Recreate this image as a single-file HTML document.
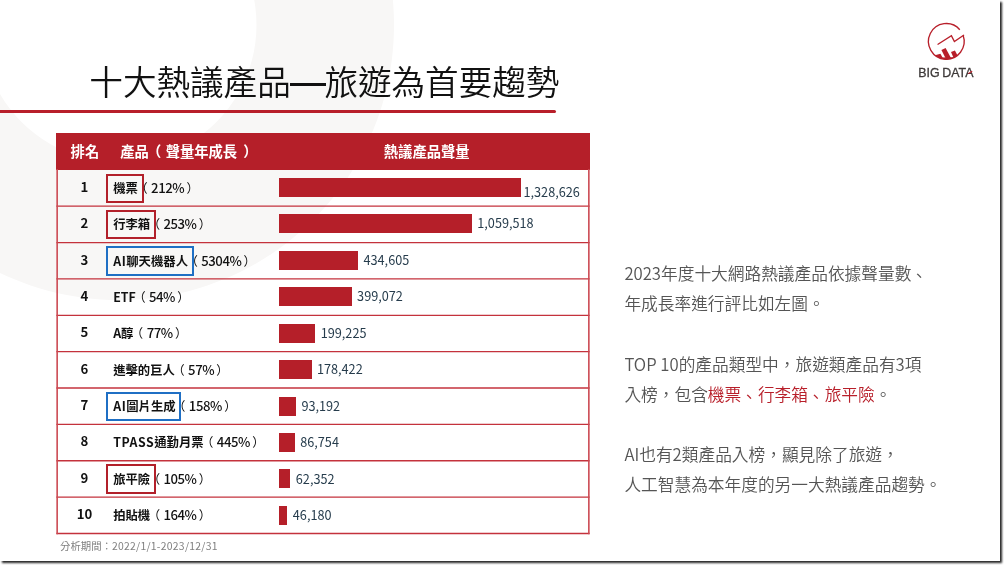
<!DOCTYPE html>
<html lang="zh-Hant">
<head>
<meta charset="utf-8">
<title>十大熱議產品—旅遊為首要趨勢</title>
<style>
html,body{margin:0;padding:0;background:#fff;}
body{width:1004px;height:565px;overflow:hidden;position:relative;font-family:"Liberation Sans","Noto Sans CJK TC",sans-serif;}
#slide{position:absolute;left:0;top:0;width:1000px;height:561px;background:#fff;box-shadow:2px 2px 2px rgba(0,0,0,.85);overflow:hidden;}
#bg{position:absolute;left:0;top:0;}
h1{position:absolute;left:89.3px;top:55.8px;margin:0;font-family:"Noto Sans CJK TC","Liberation Sans",sans-serif;font-weight:350;font-size:33.6px;line-height:50px;color:#111;white-space:nowrap;letter-spacing:0;}
.ds{position:relative;top:2px;}
.ds:after{content:"";position:absolute;left:-0.7px;right:-1.9px;top:25.7px;height:2.6px;background:#111;}
#rule{position:absolute;left:0;top:109.6px;width:556px;height:3.2px;background:#b81f2a;border-radius:0 2px 2px 0;}
#tbl{position:absolute;left:0;top:0;}
#hd{position:absolute;left:56.3px;top:133px;width:533.3px;height:36.8px;background:#b51f29;color:#fff;font-family:"Noto Sans CJK TC","Liberation Sans",sans-serif;font-weight:700;font-size:14.3px;line-height:35.2px;white-space:nowrap;}
#hd span{position:absolute;top:0;}
s{text-decoration:none;position:relative;}
#hd .pl{margin-left:-2px;margin-right:4.5px;}
#hd .pr{margin-left:6px;}
.pc .pl{margin-left:-2.6px;margin-right:3.4px;}
.pc .pr{margin-left:2.2px;}
.ls{letter-spacing:.55px;}
.row{position:absolute;left:0;width:1000px;height:36.37px;line-height:35.2px;white-space:nowrap;}
.rk{position:absolute;left:64.5px;width:40px;line-height:34.2px;text-align:center;font-family:"Noto Sans CJK TC",sans-serif;font-weight:700;font-size:13.2px;color:#111;}
.nm{position:absolute;left:113.2px;top:0;color:#222;}
.pn{font-family:"Noto Sans CJK TC","Liberation Sans",sans-serif;font-weight:700;font-size:12.35px;color:#111;position:relative;}
.pc{font-family:"Noto Sans CJK TC","Liberation Sans",sans-serif;font-weight:400;font-size:12.4px;color:#111;}
.pc u{text-decoration:none;font-size:13.2px;letter-spacing:-.45px;font-weight:500;}
.bx:before{content:"";position:absolute;left:-7.1px;width:calc(100% + 12.9px);box-sizing:border-box;top:-5.3px;height:29.4px;border:2px solid #b2202a;}
.bl:before{border-color:#1f6fc4;}
.bar{position:absolute;left:279px;top:7.9px;height:19px;background:#b51f29;}
.lb{position:absolute;top:-0.6px;font-family:"Noto Sans CJK TC","Liberation Sans",sans-serif;font-size:12.7px;color:#263c4c;}
#ft{position:absolute;left:60px;top:537px;font-family:"Noto Sans CJK TC","Liberation Sans",sans-serif;font-size:10.4px;line-height:18px;color:#808080;white-space:nowrap;}
#tx{position:absolute;left:624.4px;top:258.4px;font-family:"Noto Sans CJK TC","Liberation Sans",sans-serif;font-weight:350;font-size:16.7px;line-height:30.1px;color:#555;white-space:nowrap;}
#tx em{font-style:normal;color:#b81f2a;}
#tx .dn{top:2px;left:-0.5px;}
#logo{position:absolute;left:905px;top:15px;}
</style>
</head>
<body>
<div id="slide">
<svg id="bg" width="1000" height="561" viewBox="0 0 1000 561">
  <path fill="#f8f7f6" fill-rule="evenodd" d="M119 -250 a275 275 0 1 0 0.01 0 Z M119 -112.5 a137.5 137.5 0 1 1 -0.01 0 Z"/>
</svg>
<h1>十大熱議產品<span class="ds">—</span>旅遊為首要趨勢</h1>
<div id="rule"></div>
<div id="hd"><span style="left:14.3px">排名</span><span style="left:64px">產品<s class="pl">（</s>聲量年成長<s class="pr">）</s></span><span style="left:327.5px">熱議產品聲量</span></div>
<svg id="tbl" width="1000" height="561" viewBox="0 0 1000 561"><g stroke="#c4323c" stroke-width="1.3" fill="none"><path d="M56.4 206.17H589.6"/><path d="M56.4 242.54H589.6"/><path d="M56.4 278.91H589.6"/><path d="M56.4 315.28H589.6"/><path d="M56.4 351.65H589.6"/><path d="M56.4 388.02H589.6"/><path d="M56.4 424.39H589.6"/><path d="M56.4 460.76H589.6"/><path d="M56.4 497.13H589.6"/><path d="M56.4 533.50H589.6"/></g><g stroke="#cc4a53" stroke-width="1.6" fill="none"><path d="M57.15 169V534.15"/><path d="M588.85 169V534.15"/></g></svg>
<div class="row" style="top:169.80px"><span class="rk">1</span><span class="nm"><b class="pn bx rd">機票</b><span class="pc"><s class="pl">（</s><u>212%</u><s class="pr">）</s></span></span><i class="bar" style="top:7.9px;width:241.9px"></i><span class="lb" style="left:523.5px;top:4.4px">1,328,626</span></div>
<div class="row" style="top:206.17px"><span class="rk">2</span><span class="nm"><b class="pn bx rd">行李箱</b><span class="pc"><s class="pl">（</s><u>253%</u><s class="pr">）</s></span></span><i class="bar" style="top:8.0px;width:192.9px"></i><span class="lb" style="left:477.3px;top:-0.7px">1,059,518</span></div>
<div class="row" style="top:242.54px"><span class="rk">3</span><span class="nm"><b class="pn bx bl"><span class="ls">AI</span>聊天機器人</b><span class="pc"><s class="pl">（</s><u>5304%</u><s class="pr">）</s></span></span><i class="bar" style="top:8.1px;width:79.1px"></i><span class="lb" style="left:363.5px;top:-0.6px">434,605</span></div>
<div class="row" style="top:278.91px"><span class="rk">4</span><span class="nm"><b class="pn">ETF</b><span class="pc"><s class="pl">（</s><u>54%</u><s class="pr">）</s></span></span><i class="bar" style="top:8.2px;width:72.7px"></i><span class="lb" style="left:357.1px;top:-0.5px">399,072</span></div>
<div class="row" style="top:315.28px"><span class="rk">5</span><span class="nm"><b class="pn">A醇</b><span class="pc"><s class="pl">（</s><u>77%</u><s class="pr">）</s></span></span><i class="bar" style="top:8.3px;width:36.3px"></i><span class="lb" style="left:320.7px;top:-0.4px">199,225</span></div>
<div class="row" style="top:351.65px"><span class="rk">6</span><span class="nm"><b class="pn">進擊的巨人</b><span class="pc"><s class="pl">（</s><u>57%</u><s class="pr">）</s></span></span><i class="bar" style="top:8.4px;width:32.5px"></i><span class="lb" style="left:316.9px;top:-0.3px">178,422</span></div>
<div class="row" style="top:388.02px"><span class="rk">7</span><span class="nm"><b class="pn bx bl"><span class="ls">AI</span>圖片生成</b><span class="pc"><s class="pl">（</s><u>158%</u><s class="pr">）</s></span></span><i class="bar" style="top:8.5px;width:17.0px"></i><span class="lb" style="left:301.4px;top:-0.2px">93,192</span></div>
<div class="row" style="top:424.39px"><span class="rk">8</span><span class="nm"><b class="pn"><span class="ls">TPASS</span>通勤月票</b><span class="pc"><s class="pl">（</s><u>445%</u><s class="pr">）</s></span></span><i class="bar" style="top:8.6px;width:15.8px"></i><span class="lb" style="left:300.2px;top:-0.1px">86,754</span></div>
<div class="row" style="top:460.76px"><span class="rk">9</span><span class="nm"><b class="pn bx rd">旅平險</b><span class="pc"><s class="pl">（</s><u>105%</u><s class="pr">）</s></span></span><i class="bar" style="top:8.7px;width:11.4px"></i><span class="lb" style="left:295.8px;top:0.0px">62,352</span></div>
<div class="row" style="top:497.13px"><span class="rk">10</span><span class="nm"><b class="pn">拍貼機</b><span class="pc"><s class="pl">（</s><u>164%</u><s class="pr">）</s></span></span><i class="bar" style="top:8.8px;width:8.4px"></i><span class="lb" style="left:292.8px;top:0.1px">46,180</span></div>
<div id="ft">分析期間：<span style="letter-spacing:.27px">2022/1/1-2023/12/31</span></div>
<div id="tx">2023年度十大網路熱議產品依據聲量數<s class="dn">、</s><br>年成長率進行評比如左圖。<br><br>TOP 10的產品類型中，旅遊類產品有3項<br>入榜，包含<em>機票<s class="dn">、</s>行李箱<s class="dn">、</s>旅平險</em>。<br><br>AI也有2類產品入榜，顯見除了旅遊，<br>人工智慧為本年度的另一大熱議產品趨勢。</div>
<svg id="logo" width="90" height="70" viewBox="905 15 90 70">
  <g fill="none" stroke="#b81f2a" stroke-width="1.35" stroke-linecap="butt" stroke-linejoin="miter">
    <path d="M959.77 29.69 A17.85 17.85 0 1 0 963.18 35.59"/>
    <path d="M938 44.2 L951.4 35.6 L954.4 41.6 L963.6 35.3" stroke-linecap="round"/>
  </g>
  <clipPath id="cc"><circle cx="946.3" cy="41.4" r="18"/></clipPath>
  <g fill="#b81f2a" clip-path="url(#cc)">
    <path d="M935 55.3 L940.4 53.8 L944.6 61 L935 61 Z"/>
    <path d="M941.4 49.9 L945.6 47.9 L952.6 61 L947 61 Z"/>
    <path d="M951 52.1 L954.9 50.5 L960 60 L955 61 Z"/>
    <path d="M938 57.6 L958 57.2 L958 62 L938 62 Z"/>
  </g>
  <text x="918.3" y="76.6" font-family="Liberation Sans, sans-serif" font-size="12.4" fill="#3e3a39" stroke="#3e3a39" stroke-width="0.3" style="letter-spacing:.02px;word-spacing:-0.9px">BIG DATA</text>
  <path d="M968.3 73.6 L972.2 71.3" stroke="#c8202c" stroke-width="1.1" fill="none"/>
</svg>
</div>
</body>
</html>
